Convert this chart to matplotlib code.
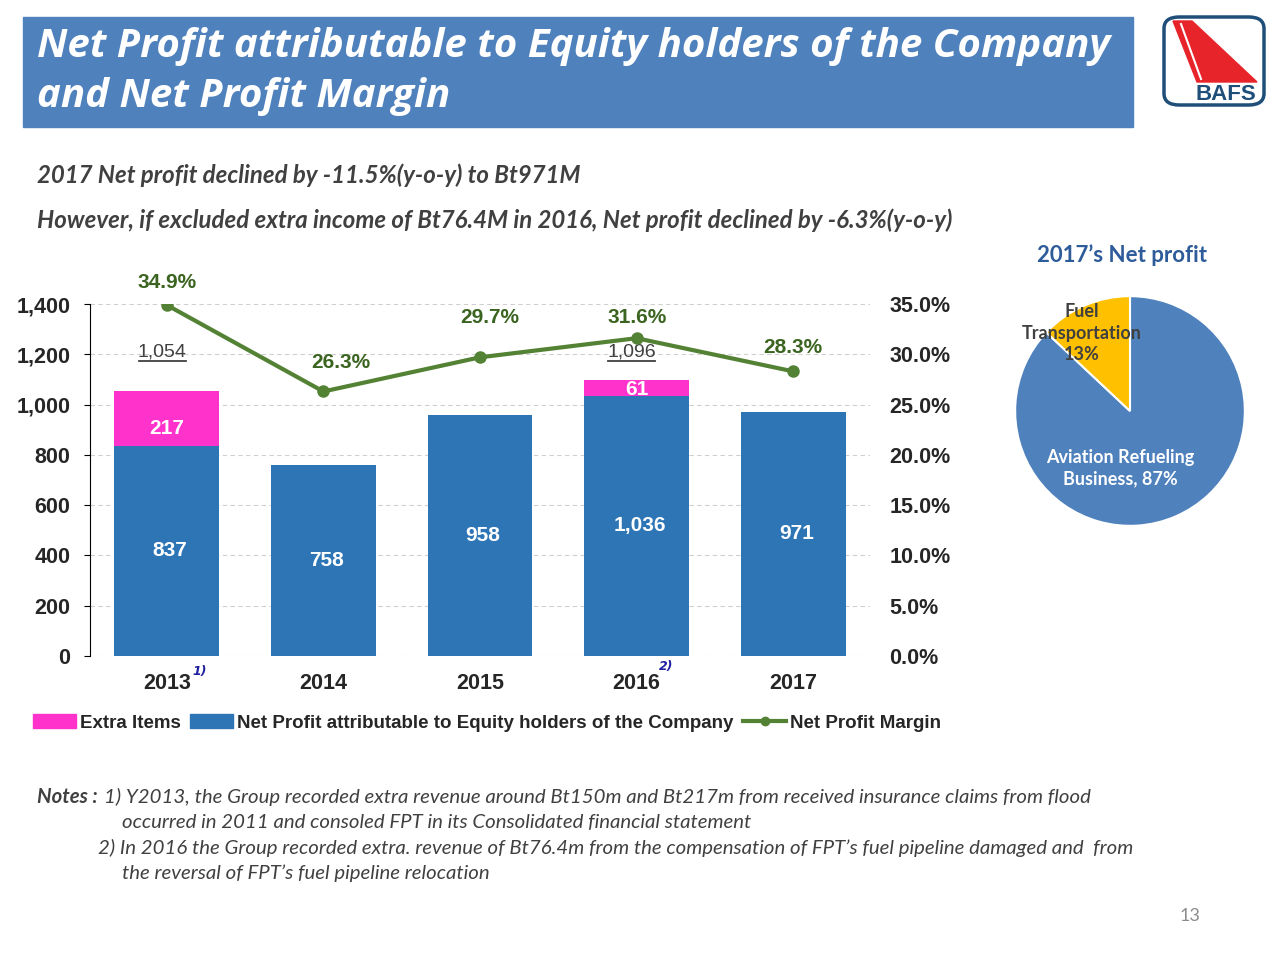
import matplotlib.pyplot as plt
import matplotlib.patches as mpatches
from matplotlib.lines import Line2D
import numpy as np

years = ['2013', '2014', '2015', '2016', '2017']
net_profit = [837, 758, 958, 1036, 971]
extra_items = [217, 0, 0, 61, 0]
totals = ['1,054', '', '', '1,096', '']
margin = [34.9, 26.3, 29.7, 31.6, 28.3]
pie_labels = ['Aviation Refueling\nBusiness, 87%', 'Fuel\nTransportation\n13%']
pie_values = [87, 13]

blue = '#2E75B6'
pink = '#FF33CC'
green = '#548235'
dgreen = '#3B6420'
hdr = '#4F81BD'

fig = plt.figure(figsize=(12.8, 9.6), dpi=100)
W, H = 1280, 960

def fx(x):
    return x / W

def fy(y):
    return 1 - y / H

# header box
fig.add_artist(mpatches.Rectangle((fx(23), fy(127)), fx(1110), 110 / H, color=hdr, transform=fig.transFigure))
fig.text(fx(37), fy(47), 'Net Profit attributable to Equity holders of the Company', color='white',
         fontsize=29, fontweight='bold', style='italic', family='Open Sans', va='center')
fig.text(fx(37), fy(97), 'and Net Profit Margin', color='white',
         fontsize=29, fontweight='bold', style='italic', family='Open Sans', va='center')

# logo
fig.add_artist(mpatches.FancyBboxPatch((fx(1164), fy(105)), fx(100), 88 / H,
                                       boxstyle='round,pad=0,rounding_size=0.012', fc='white',
                                       ec='#1F4E79', lw=2.5, transform=fig.transFigure))
tail = [(fx(1173), fy(21)), (fx(1192), fy(21)), (fx(1257), fy(82)), (fx(1197), fy(82))]
fig.add_artist(mpatches.Polygon(tail, closed=True, color='#E8242B', transform=fig.transFigure))
fig.add_artist(Line2D([fx(1181), fx(1201)], [fy(24), fy(79)], color='white', lw=1.5, transform=fig.transFigure))
fig.text(fx(1226), fy(94), 'BAFS', color='#1F4E79', fontsize=16, fontweight='bold',
         family='Liberation Sans', ha='center', va='center')

# subtitles
fig.text(fx(37), fy(175), '2017 Net profit declined by -11.5%(y-o-y) to Bt971M', color='#404040',
         fontsize=17.3, fontweight='bold', style='italic', family='Lato', va='center')
fig.text(fx(37), fy(220), 'However, if excluded extra income of Bt76.4M in 2016, Net profit declined by -6.3%(y-o-y)',
         color='#404040', fontsize=17.3, fontweight='bold', style='italic', family='Lato', va='center')

# main chart
ax = fig.add_axes([fx(90), fy(656), fx(780), 352 / H])
x = np.arange(len(years))
ax.bar(x, net_profit, width=0.67, color=blue, zorder=2)
ax.bar(x, extra_items, width=0.67, bottom=net_profit, color=pink, zorder=2)
ax.set_xlim(-0.49, 4.49)
ax.set_ylim(0, 1400)
ax.set_yticks(range(0, 1401, 200))
ax.set_yticklabels([f'{v:,}' for v in range(0, 1401, 200)])
ax.yaxis.grid(True, ls=(0, (4, 3)), color='#D0D0D0', lw=0.8, zorder=0)
for s in ['top', 'right', 'bottom']:
    ax.spines[s].set_visible(False)
ax.tick_params(axis='y', labelsize=15.5, length=4, pad=10)
ax.tick_params(axis='x', length=0, labelsize=15.5, pad=12)
ax.set_xticks(x)
ax.set_xticklabels(years)
for lab in ax.get_xticklabels() + ax.get_yticklabels():
    lab.set_fontweight('bold')
    lab.set_family('Liberation Sans')
    lab.set_color('#262626')

extra_dy = [-40, 0, 0, -5, 0]
for i, v in enumerate(net_profit):
    ax.text(i + 0.02, v / 2, f'{v:,}', color='white', fontsize=15, fontweight='bold',
            family='Liberation Sans', ha='center', va='center', zorder=3)
    if extra_items[i]:
        ax.text(i, v + extra_items[i] / 2 + extra_dy[i], str(extra_items[i]), color='white', fontsize=15,
                fontweight='bold', family='Liberation Sans', ha='center', va='center', zorder=3)
    if totals[i]:
        ax.text(i - 0.03, 1209, totals[i], color='#404040', fontsize=14, family='Liberation Sans',
                ha='center', va='center', zorder=3)
        ax.plot([i - 0.18, i + 0.12], [1172, 1172], color='#404040', lw=1.3, zorder=3)

# footnote marks
ax.text(0.21, -62, '1)', color='#1F1FA0', fontsize=9, fontweight='bold', style='italic',
        ha='center', va='center', clip_on=False)
ax.text(3.19, -40, '2)', color='#1F1FA0', fontsize=9, fontweight='bold', style='italic',
        ha='center', va='center', clip_on=False)

ax2 = ax.twinx()
ax2.set_ylim(0, 35)
ax2.set_yticks(np.arange(0, 35.1, 5))
ax2.set_yticklabels([f'{v:.1f}%' for v in np.arange(0, 35.1, 5)])
ax2.tick_params(axis='y', length=0, labelsize=15.5, pad=14)
for lab in ax2.get_yticklabels():
    lab.set_fontweight('bold')
    lab.set_family('Liberation Sans')
    lab.set_color('#262626')
for s in ['top', 'right', 'bottom', 'left']:
    ax2.spines[s].set_visible(False)
ax2.plot(x, margin, color=green, lw=3, marker='o', ms=8, zorder=4)
m_dx = [0, 0.11, 0.06, 0, 0]
m_dy = [2.2, 2.9, 4.0, 2.1, 2.4]
for i, m in enumerate(margin):
    ax2.text(i + m_dx[i], m + m_dy[i], f'{m:.1f}%', color=dgreen, fontsize=15, fontweight='bold',
             family='Liberation Sans', ha='center', va='center')

handles = [mpatches.Patch(color=pink, label='Extra Items'),
           mpatches.Patch(color=blue, label='Net Profit attributable to Equity holders of the Company'),
           Line2D([0], [0], color=green, lw=3, marker='o', ms=6, label='Net Profit Margin')]
leg = fig.legend(handles=handles, loc='center', bbox_to_anchor=(fx(487), fy(723)), ncol=3, frameon=False,
                 prop={'family': 'Liberation Sans', 'weight': 'bold', 'size': 13.5}, handlelength=2.3,
                 handletextpad=0.2, columnspacing=0.5)
for t in leg.get_texts():
    t.set_color('#262626')

# pie
fig.text(fx(1122), fy(255), '2017\u2019s Net profit', color='#2E5C9A', fontsize=16, fontweight='bold',
         family='Lato', ha='center', va='center')
pax = fig.add_axes([fx(1014), fy(527), fx(232), 232 / H])
pax.pie(pie_values, colors=['#4F81BD', '#FFC000'], startangle=90, counterclock=False,
        wedgeprops={'edgecolor': 'white', 'linewidth': 1.5})
pax.set_xlim(-1.01, 1.01)
pax.set_ylim(-1.01, 1.01)
pax.set_aspect('equal')
fig.text(fx(1120), fy(468), pie_labels[0], color='white', fontsize=13, fontweight='bold', family='Lato',
         ha='center', va='center', linespacing=1.3)
fig.text(fx(1082), fy(333), pie_labels[1], color='#404040', fontsize=13, fontweight='bold', family='Lato',
         ha='center', va='center', linespacing=1.3)

# notes
nfs = 14.7
fig.text(fx(37), fy(797), 'Notes :', color='#404040', fontsize=nfs, fontweight='bold', style='italic',
         family='Lato', va='center')
fig.text(fx(104), fy(797), '1) Y2013, the Group recorded extra revenue around Bt150m and Bt217m from received insurance claims from flood',
         color='#404040', fontsize=nfs, style='italic', family='Lato', va='center')
fig.text(fx(122), fy(822), 'occurred in 2011 and consoled FPT in its Consolidated financial statement',
         color='#404040', fontsize=nfs, style='italic', family='Lato', va='center')
fig.text(fx(98), fy(848), '2) In 2016 the Group recorded extra. revenue of Bt76.4m from the compensation of FPT\u2019s fuel pipeline damaged and  from',
         color='#404040', fontsize=nfs, style='italic', family='Lato', va='center')
fig.text(fx(122), fy(873), 'the reversal of FPT\u2019s fuel pipeline relocation',
         color='#404040', fontsize=nfs, style='italic', family='Lato', va='center')
fig.text(fx(1190), fy(916), '13', color='#8C8C8C', fontsize=13, family='Lato', ha='center', va='center')

fig.savefig('out.png', dpi=100)
